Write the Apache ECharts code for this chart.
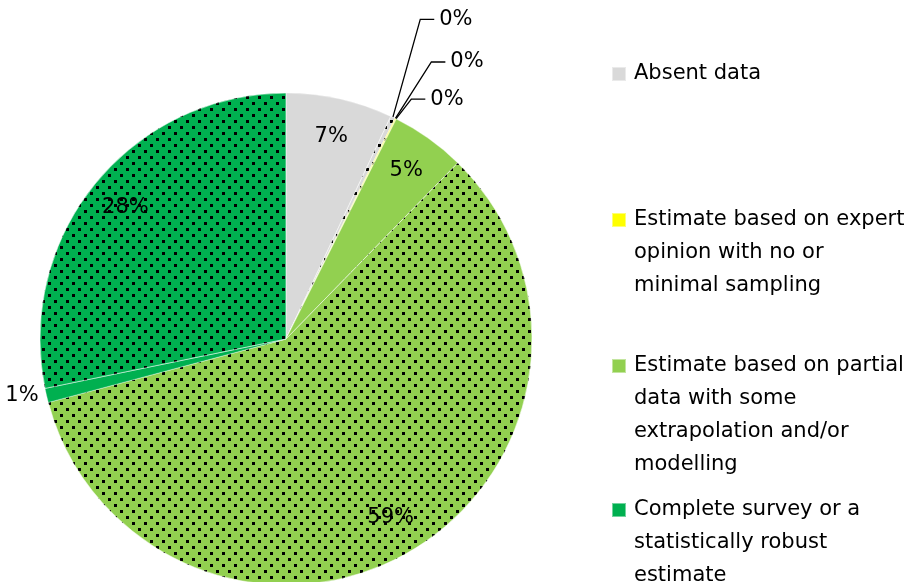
<!DOCTYPE html>
<html>
<head>
<meta charset="utf-8">
<script src="https://cdn.jsdelivr.net/npm/echarts@6/dist/echarts.min.js"></script>
<style>
html,body{margin:0;padding:0;background:#fff;}
#chart{width:912px;height:582px;}
</style>
</head>
<body>
<div id="chart"></div>
<script>
// ---- data ----
const categories = [
  'Absent data',
  'Estimate based on expert opinion with no or minimal sampling',
  'Estimate based on partial data with some extrapolation and/or modelling',
  'Complete survey or a statistically robust estimate'
];
const legendLines = [
  ['Absent data'],
  ['Estimate based on expert', 'opinion with no or', 'minimal sampling'],
  ['Estimate based on partial', 'data with some', 'extrapolation and/or', 'modelling'],
  ['Complete survey or a', 'statistically robust', 'estimate']
];
// each category: plain slice then dotted slice (percent)
const plainValues  = [7.0, 0.05, 4.9, 0.93];
const dottedValues = [0.3, 0.05, 58.55, 28.22];
const colors = ['#d9d9d9', '#ffff00', '#92d050', '#00b050'];

// ---- layout / style ----
const FONT = 'DejaVu Sans';
const CX = 286, CY = 339, R = 246;
const legendFirstLineY = [74, 220, 366, 510];
const LH = 33;
// leader-line label settings for the tiny slices: [length, length2, dx, dy]
const zeroLabelStyle = [[100, 14, -16, -8], [52, 14, 13, -10], [12, 14, 10, -9]];

const dotDecal = {
  symbol: 'rect',
  symbolSize: 1,
  color: '#000000',
  dashArrayX: [[3, 9], [0, 6, 3, 3]],
  dashArrayY: [3, 3],
  rotation: 0
};

const mainData = [];
const labelData = [];
const shiftByIndex = {};
let zeroCount = 0;
categories.forEach((name, i) => {
  [[plainValues[i], false], [dottedValues[i], true]].forEach(([v, dotted]) => {
    const sliceName = dotted ? name + ' ' : name;
    const item = { name: sliceName, value: v, itemStyle: { color: colors[i] } };
    if (dotted) item.itemStyle.decal = dotDecal;
    mainData.push(item);
    const rounded = Math.round(v);
    const lbl = { name: sliceName, value: v };
    if (rounded >= 2) {
      lbl.label = { position: 'inside' };
      lbl.labelLine = { show: false };
    } else if (rounded === 0) {
      const l = zeroLabelStyle[zeroCount % 3];
      zeroCount++;
      shiftByIndex[labelData.length] = [l[2], l[3]];
      lbl.label = { position: 'outside', padding: [7, 0, 7, 0] };
      lbl.labelLine = { show: true, length: l[0], length2: l[1], lineStyle: { color: '#000', width: 1.3 } };
    } else {
      lbl.label = { position: 'outside', overflow: 'none', edgeDistance: 0 };
      lbl.labelLine = { show: false, length: 2, length2: 1 };
    }
    labelData.push(lbl);
  });
});

const legends = categories.map((name, i) => {
  const n = legendLines[i].length;
  return {
    data: [name],
    left: 611,
    top: legendFirstLineY[i] - (n - 1) * LH - LH / 2,
    orient: 'vertical',
    icon: 'rect',
    itemWidth: 14,
    itemHeight: 14,
    padding: 0,
    selectedMode: false,
    formatter: function () {
      const blanks = new Array(n - 1).fill('').join('\n');
      return (n > 1 ? blanks + '\n' : '') + legendLines[i].join('\n');
    },
    textStyle: {
      fontFamily: FONT,
      fontSize: 21,
      lineHeight: LH,
      color: '#000',
      padding: [0, 0, 0, 3]
    }
  };
});

const chart = echarts.init(document.getElementById('chart'));
chart.setOption({
  animation: false,
  backgroundColor: '#fff',
  legend: legends,
  series: [
    {
      type: 'pie',
      center: [CX, CY],
      radius: [0, R],
      startAngle: 90,
      clockwise: true,
      silent: true,
      label: { show: false },
      labelLine: { show: false },
      itemStyle: { borderColor: 'rgba(255,255,255,0.45)', borderWidth: 0.7 },
      data: mainData
    },
    {
      type: 'pie',
      center: [CX, CY],
      radius: [R * 0.66, R],
      startAngle: 90,
      clockwise: true,
      silent: true,
      legendHoverLink: false,
      avoidLabelOverlap: true,
      itemStyle: { color: 'rgba(0,0,0,0)', borderWidth: 0 },
      label: {
        show: true,
        fontFamily: FONT,
        fontSize: 21,
        color: '#000',
        formatter: function (p) { return Math.round(p.value) + '%'; }
      },
      labelLayout: function (p) {
        const s = shiftByIndex[p.dataIndex];
        if (!s) return {};
        const out = { dx: s[0], dy: s[1] };
        const pts = p.labelLinePoints;
        if (pts && pts.length === 3) {
          out.labelLinePoints = [
            [pts[0][0], pts[0][1]],
            [pts[1][0] + s[0], pts[1][1] + s[1]],
            [pts[2][0] + s[0], pts[2][1] + s[1]]
          ];
        }
        return out;
      },
      data: labelData
    }
  ]
});
</script>
</body>
</html>
